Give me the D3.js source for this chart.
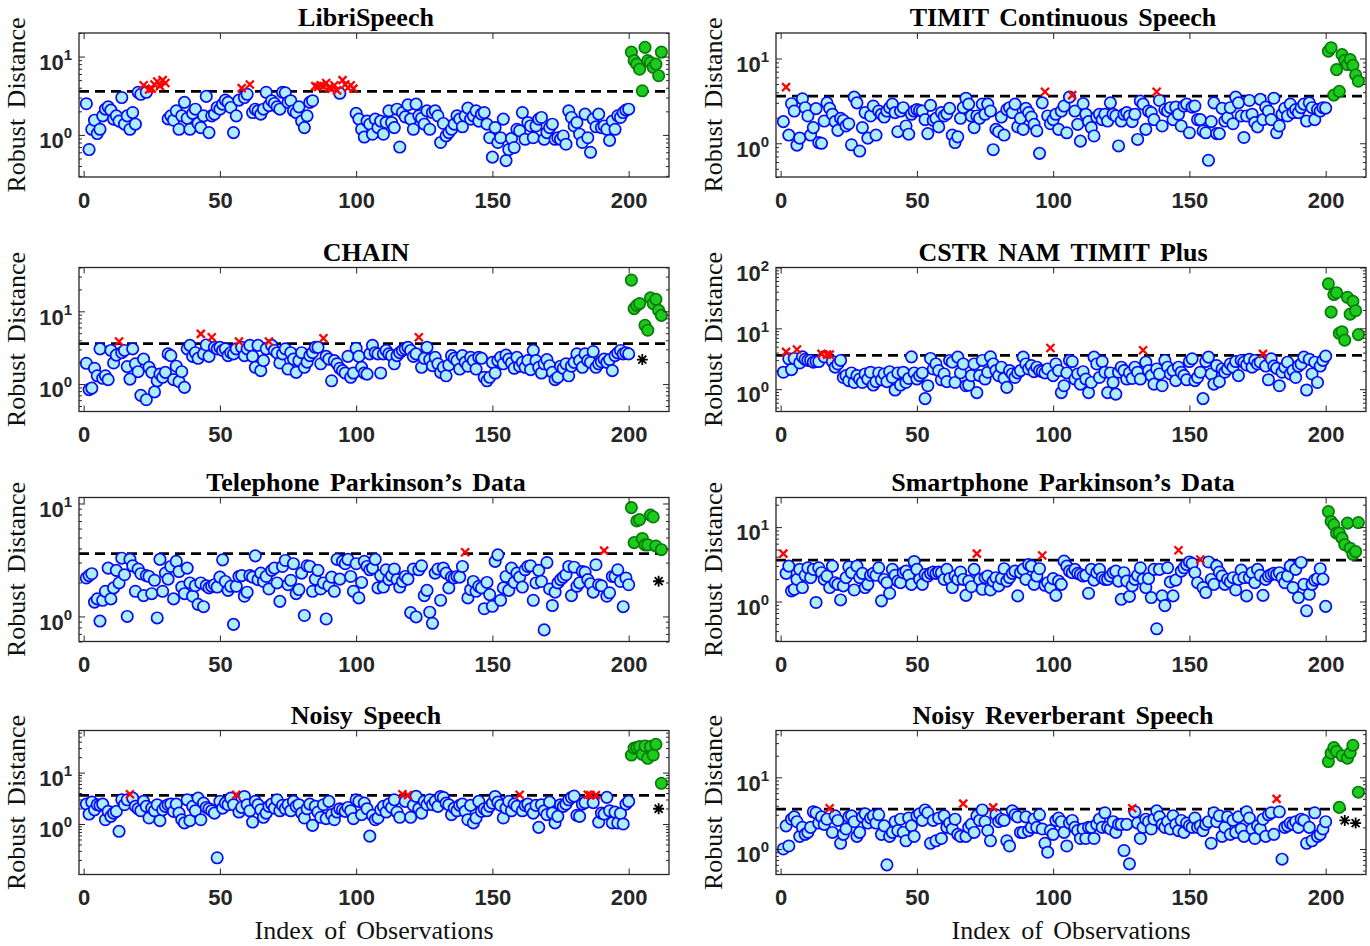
<!DOCTYPE html>
<html>
<head>
<meta charset="utf-8">
<style>
  body { margin: 0; background: #fff; }
  .tick text { font-family: "Liberation Sans", Arial, sans-serif; font-weight: bold; font-size: 22px; fill: #262626; }
  .tick line { stroke: #262626; stroke-width: 1; }
  .title { font-family: "Liberation Serif", "Times New Roman", serif; font-weight: bold; font-size: 26px; word-spacing: 4px; }
  .axlabel { font-family: "Liberation Serif", "Times New Roman", serif; font-size: 26px; word-spacing: 4px; fill: #111; }
</style>
</head>
<body>
<svg width="1370" height="946"></svg>
<script src="https://d3js.org/d3.v7.min.js"></script>
<script>
// robust distance cut-off (dashed line)
const cutoff = 3.6;

const panelTitles = [
  "LibriSpeech", "TIMIT Continuous Speech", "CHAIN", "CSTR NAM TIMIT Plus",
  "Telephone Parkinson\u2019s Data", "Smartphone Parkinson\u2019s Data",
  "Noisy Speech", "Noisy Reverberant Speech",
];

const yRanges = [
  [0.29, 20], [0.4, 20], [0.42, 40], [0.43, 100],
  [0.6, 11.3], [0.29, 25], [0.104, 66], [0.44, 45],
];

const xTicks = [0, 50, 100, 150, 200];

// observations 1..200, then the 12 planted ones (201..212)
const libriSpeech = [
  2.5, 0.65, 1.18, 1.54, 1.04, 1.18, 1.75, 2.13, 2.28, 2.07,
  1.59, 1.75, 1.5, 3.0, 1.37, 1.75, 1.18, 1.93, 1.37, 3.5,
  3.3, 4.3, 3.5, 3.8, 3.9, 4.4, 4.8, 4.2, 5.0, 4.6,
  1.6, 1.75, 1.54, 2.03, 1.18, 1.75, 2.6, 1.63, 1.18, 1.88,
  2.13, 1.4, 1.24, 1.75, 3.1, 1.07, 1.75, 1.84, 2.24, 2.13,
  2.47, 2.78, 2.6, 2.24, 1.07, 1.75, 2.78, 3.96, 3.0, 3.3,
  4.4, 1.93, 2.13, 2.03, 1.84, 2.13, 3.5, 2.36, 2.73, 2.52,
  2.28, 2.13, 3.5, 3.45, 2.6, 2.73, 2.03, 1.93, 2.28, 1.5,
  1.24, 1.75, 2.6, 2.73, 4.2, 4.1, 4.3, 4.2, 4.6, 4.0,
  3.9, 4.3, 3.7, 3.4, 5.0, 4.4, 4.0, 4.3, 3.9, 1.88,
  1.59, 1.18, 0.94, 1.5, 1.37, 1.02, 1.59, 1.24, 1.5, 1.02,
  1.44, 2.03, 1.44, 1.24, 2.13, 0.7, 1.93, 1.7, 2.42, 1.59,
  1.18, 2.47, 1.75, 1.63, 1.37, 2.03, 1.18, 1.93, 2.03, 1.75,
  0.8, 1.4, 0.97, 1.07, 1.18, 1.37, 1.75, 1.59, 1.27, 1.75,
  2.2, 1.59, 1.75, 2.03, 1.5, 1.84, 1.93, 1.37, 0.92, 0.52,
  1.24, 0.8, 0.92, 1.59, 0.47, 0.65, 0.9, 0.69, 1.18, 1.13,
  1.93, 0.88, 1.44, 1.3, 0.92, 1.3, 1.59, 1.67, 0.88, 1.07,
  1.24, 1.37, 0.88, 0.92, 0.88, 0.97, 0.76, 2.03, 1.67, 1.3,
  1.44, 1.02, 0.8, 1.84, 0.92, 0.6, 1.59, 1.27, 1.84, 1.24,
  1.3, 1.18, 0.85, 1.5, 1.18, 1.75, 1.67, 1.93, 2.07, 2.13,
];
const libriSpeechPlanted = [11.4, 8.9, 8.0, 6.9, 3.66, 13.1, 8.9, 8.4, 7.3, 8.0, 5.7, 11.4];

const timit = [
  1.8, 4.6, 1.25, 2.93, 2.4, 0.95, 1.15, 3.35, 2.63, 2.1,
  1.25, 1.53, 2.56, 1.02, 1.0, 1.83, 3.0, 2.58, 2.2, 1.8,
  1.42, 1.97, 1.86, 1.6, 1.7, 0.96, 3.5, 3.0, 0.81, 1.53,
  2.3, 1.15, 2.1, 2.75, 1.25, 2.4, 2.2, 2.04, 2.4, 2.63,
  2.9, 2.3, 1.37, 2.4, 2.63, 1.6, 1.28, 2.2, 2.4, 2.5,
  2.44, 2.4, 1.9, 1.3, 2.8, 1.86, 1.97, 1.56, 2.3, 2.1,
  2.23, 2.58, 1.25, 1.02, 1.19, 1.97, 2.63, 3.4, 2.9, 2.1,
  1.53, 2.1, 1.97, 2.9, 2.2, 2.9, 2.4, 0.84, 1.46, 1.37,
  2.04, 1.25, 2.5, 2.63, 2.3, 2.9, 1.56, 1.97, 1.46, 2.58,
  2.3, 2.04, 1.67, 1.4, 0.76, 3.0, 4.05, 2.1, 1.7, 1.9,
  2.2, 1.46, 2.4, 2.75, 1.33, 3.5, 3.7, 2.4, 1.67, 1.06,
  2.93, 2.2, 1.8, 1.53, 1.22, 2.04, 2.2, 1.9, 2.2, 1.83,
  3.0, 2.2, 2.1, 0.93, 1.83, 2.2, 2.3, 2.1, 1.8, 2.2,
  1.11, 3.15, 2.9, 1.46, 2.4, 2.3, 1.9, 4.05, 3.2, 1.6,
  2.5, 2.4, 2.63, 1.9, 2.67, 2.2, 1.6, 2.75, 2.9, 1.33,
  2.67, 2.75, 1.9, 1.9, 1.4, 1.33, 0.63, 1.8, 3.0, 1.3,
  1.3, 2.58, 1.83, 2.0, 2.63, 1.7, 3.5, 3.0, 2.1, 1.17,
  2.1, 3.2, 2.2, 1.75, 1.56, 3.3, 1.9, 2.67, 2.4, 1.9,
  3.4, 1.33, 1.6, 2.2, 2.58, 2.1, 2.9, 2.3, 2.5, 2.3,
  2.63, 2.9, 1.83, 3.0, 2.63, 1.9, 2.5, 2.4, 2.63, 2.6,
];
const timitPlanted = [12.2, 13.4, 3.7, 7.4, 4.1, 11.1, 9.5, 8.5, 9.7, 8.3, 6.4, 5.4];

const chain = [
  1.93, 0.84, 0.88, 1.65, 1.3, 3.05, 1.2, 1.3, 1.15, 2.9,
  1.95, 2.5, 3.85, 2.7, 2.9, 1.74, 1.17, 3.05, 1.9, 1.48,
  0.7, 2.2, 0.61, 1.7, 1.45, 0.78, 1.11, 1.37, 1.24, 1.45,
  2.6, 2.46, 1.15, 1.76, 1.08, 1.48, 0.9, 3.05, 3.4, 2.4,
  2.7, 2.26, 4.9, 2.6, 3.45, 2.4, 4.4, 3.2, 3.05, 3.2,
  2.9, 3.05, 2.46, 2.7, 2.6, 3.05, 3.85, 3.2, 2.46, 3.05,
  3.4, 2.4, 1.7, 3.4, 1.53, 2.1, 3.05, 3.85, 3.4, 2.9,
  2.68, 1.95, 2.6, 3.05, 1.61, 2.7, 2.2, 1.45, 2.1, 2.7,
  1.7, 2.0, 2.46, 2.7, 3.2, 3.2, 1.9, 4.27, 2.4, 2.2,
  1.11, 2.1, 1.9, 1.65, 1.53, 1.42, 2.4, 1.24, 1.42, 3.1,
  2.4, 1.7, 1.42, 1.37, 2.6, 3.4, 2.7, 2.6, 1.42, 2.6,
  2.9, 2.6, 2.46, 1.9, 2.46, 2.7, 2.9, 3.05, 3.2, 2.9,
  2.4, 2.6, 4.4, 1.7, 2.26, 3.2, 2.17, 1.79, 2.33, 1.9,
  1.45, 1.7, 1.3, 1.83, 2.46, 2.26, 2.1, 1.61, 2.46, 1.99,
  1.76, 2.33, 2.1, 1.61, 2.33, 2.26, 1.24, 1.11, 1.24, 1.99,
  1.42, 2.1, 2.33, 1.9, 2.5, 2.2, 1.95, 1.65, 2.33, 1.76,
  1.99, 1.7, 2.1, 1.58, 2.9, 2.1, 1.7, 1.42, 1.9, 2.17,
  1.79, 1.45, 1.15, 1.24, 1.76, 1.65, 1.9, 1.3, 1.76, 1.99,
  2.6, 2.1, 1.7, 2.6, 2.1, 1.99, 2.8, 1.7, 1.9, 2.03,
  2.2, 1.99, 2.17, 1.53, 2.46, 2.68, 2.9, 2.6, 2.7, 2.6,
];
const chainPlanted = [26.8, 10.9, 12.1, 12.8, 2.17, 6.4, 5.5, 15.3, 12.8, 14.6, 10.3, 8.8];

const cstr = [
  1.9, 4.1, 3.16, 2.1, 3.2, 4.5, 2.7, 3.4, 3.1, 2.97,
  2.97, 2.78, 2.85, 2.85, 3.8, 3.4, 3.7, 3.7, 2.85, 2.3,
  2.6, 2.97, 1.56, 1.67, 1.38, 1.85, 1.29, 1.67, 1.47, 1.29,
  1.78, 1.47, 1.9, 1.17, 1.33, 1.85, 1.43, 1.78, 1.33, 1.94,
  1.56, 0.97, 1.85, 1.17, 1.9, 1.29, 1.5, 3.4, 1.85, 1.47,
  1.67, 1.85, 0.7, 1.14, 3.2, 2.15, 2.6, 2.02, 1.43, 1.78,
  1.33, 2.97, 2.78, 1.29, 3.37, 1.85, 2.6, 1.14, 1.17, 1.67,
  2.6, 0.88, 1.67, 2.97, 1.47, 1.9, 3.4, 2.6, 2.02, 1.67,
  2.3, 1.5, 1.07, 2.02, 1.78, 1.56, 1.85, 2.02, 3.37, 2.6,
  2.15, 2.45, 1.94, 2.3, 2.02, 1.94, 1.85, 2.15, 4.76, 1.67,
  2.6, 2.02, 0.88, 1.14, 1.85, 2.97, 2.85, 1.47, 1.78, 1.21,
  1.94, 1.47, 0.88, 1.29, 3.37, 2.6, 1.56, 2.85, 1.9, 0.88,
  1.85, 1.29, 0.83, 1.9, 2.3, 2.02, 1.47, 1.85, 1.5, 2.3,
  1.9, 1.47, 4.36, 2.78, 2.02, 1.67, 1.21, 2.15, 1.78, 1.14,
  2.97, 2.3, 1.78, 2.02, 1.38, 2.3, 1.9, 1.67, 1.43, 2.85,
  3.16, 1.38, 1.56, 1.9, 0.7, 2.85, 3.37, 1.78, 1.21, 2.45,
  1.33, 2.15, 1.9, 2.15, 2.6, 2.3, 2.85, 1.67, 2.97, 2.78,
  2.5, 3.1, 2.3, 2.97, 2.6, 2.78, 3.8, 2.4, 1.43, 3.16,
  2.4, 2.2, 1.14, 1.9, 2.3, 2.78, 1.78, 2.02, 1.56, 2.4,
  2.6, 3.37, 0.97, 3.1, 1.78, 2.78, 1.29, 2.4, 2.97, 3.5,
];
const cstrPlanted = [54, 18.5, 35.9, 38.5, 8.3, 8.8, 6.4, 32.4, 17.1, 27.8, 19.5, 7.9];

const telephone = [
  2.19, 2.3, 2.39, 1.34, 1.43, 0.91, 1.39, 1.67, 2.68, 1.43,
  1.79, 2.56, 1.98, 3.28, 2.34, 1.0, 3.2, 2.81, 1.67, 2.63,
  2.39, 1.53, 2.3, 2.26, 1.59, 2.09, 0.97, 3.2, 1.67, 2.42,
  2.14, 2.77, 1.43, 3.07, 2.5, 1.82, 1.59, 2.68, 1.98, 1.51,
  1.87, 1.28, 1.98, 1.22, 1.87, 1.79, 1.85, 1.91, 1.82, 2.23,
  3.17, 2.04, 1.7, 1.85, 0.85, 1.85, 2.26, 2.3, 1.51, 1.64,
  2.3, 2.23, 3.44, 2.12, 2.42, 2.04, 2.26, 1.75, 2.56, 2.68,
  1.98, 1.36, 2.77, 3.13, 1.91, 2.09, 2.93, 1.59, 1.73, 2.42,
  1.02, 2.81, 2.77, 1.67, 2.14, 2.56, 1.75, 1.98, 0.95, 1.87,
  2.23, 1.67, 3.2, 2.14, 3.07, 2.93, 3.2, 2.26, 1.67, 2.93,
  1.46, 2.0, 3.07, 2.77, 2.59, 2.68, 3.2, 1.79, 2.3, 1.82,
  2.59, 2.12, 2.3, 2.63, 2.12, 1.82, 2.04, 2.26, 2.14, 1.08,
  2.63, 0.99, 2.59, 2.81, 1.53, 1.7, 1.09, 0.87, 2.42, 2.63,
  1.39, 2.68, 2.42, 1.79, 2.23, 2.19, 2.26, 2.23, 2.77, 3.7,
  1.46, 1.73, 2.04, 1.67, 1.85, 1.79, 1.17, 2.0, 1.56, 1.23,
  3.07, 3.51, 1.39, 1.79, 2.26, 1.7, 2.68, 2.0, 2.42, 2.23,
  1.82, 2.59, 2.77, 2.81, 1.39, 1.98, 2.56, 2.04, 0.76, 3.0,
  1.75, 1.25, 1.64, 1.98, 2.12, 2.23, 2.34, 2.77, 1.53, 2.73,
  1.85, 1.98, 2.5, 2.46, 2.12, 1.95, 1.64, 2.87, 1.91, 1.87,
  3.83, 1.51, 1.62, 2.26, 2.26, 2.59, 2.04, 1.22, 2.19, 1.91,
];
const telephonePlanted = [9.2, 4.5, 7.0, 7.2, 4.9, 4.3, 4.3, 7.9, 7.6, 4.2, 2.05, 3.9];

const smartphone = [
  4.4, 2.39, 2.99, 1.39, 1.46, 1.98, 2.7, 1.54, 2.25, 2.84,
  2.09, 2.7, 0.97, 2.84, 2.44, 1.98, 2.2, 1.54, 2.99, 1.79,
  1.7, 1.05, 1.62, 2.09, 2.93, 2.44, 1.43, 2.99, 2.09, 2.39,
  1.54, 1.7, 2.25, 2.39, 2.25, 2.84, 1.02, 1.98, 1.79, 1.29,
  2.7, 2.25, 1.88, 1.79, 2.44, 2.56, 2.25, 1.7, 3.45, 2.7,
  1.98, 1.7, 2.31, 2.2, 2.39, 2.49, 2.39, 2.49, 2.44, 1.98,
  2.7, 2.03, 1.54, 2.2, 1.98, 2.49, 1.98, 1.21, 1.88, 1.58,
  2.7, 4.4, 1.98, 1.46, 2.09, 2.2, 1.43, 1.88, 2.09, 1.62,
  2.03, 2.76, 1.88, 2.09, 2.39, 2.56, 1.19, 2.44, 2.7, 1.98,
  3.14, 2.99, 1.7, 2.2, 2.76, 4.15, 1.65, 1.79, 1.54, 2.03,
  1.21, 1.88, 1.7, 3.5, 2.99, 2.56, 2.44, 2.7, 2.39, 2.31,
  2.2, 2.25, 1.29, 2.7, 1.94, 2.44, 2.7, 2.09, 1.98, 1.98,
  2.2, 2.44, 2.56, 1.88, 1.07, 2.44, 1.88, 1.17, 1.62, 1.98,
  2.25, 2.84, 1.98, 1.54, 2.03, 1.13, 2.7, 0.43, 2.7, 1.19,
  0.88, 2.84, 1.83, 1.19, 1.94, 4.88, 2.56, 2.84, 3.14, 3.4,
  3.24, 2.44, 1.79, 3.67, 1.54, 1.32, 3.4, 1.98, 1.7, 2.99,
  2.49, 2.2, 1.7, 1.98, 1.83, 2.09, 1.43, 1.98, 2.64, 2.09,
  1.19, 2.09, 2.44, 1.79, 2.7, 2.25, 1.21, 1.98, 2.2, 2.31,
  2.39, 2.31, 2.44, 2.09, 1.79, 2.2, 2.99, 1.54, 2.7, 1.13,
  3.35, 1.7, 0.75, 1.25, 1.7, 1.94, 2.03, 2.76, 2.0, 0.86,
];
const smartphonePlanted = [16.2, 11.9, 10.7, 8.3, 8.3, 7.1, 5.8, 11.3, 5.2, 4.3, 4.7, 11.5];

const noisy = [
  2.44, 1.56, 2.66, 1.89, 2.37, 2.3, 2.44, 1.21, 1.76, 1.41,
  1.63, 1.76, 0.72, 2.96, 2.37, 2.96, 3.8, 3.19, 2.2, 1.98,
  1.81, 2.75, 2.2, 1.31, 2.04, 1.81, 2.37, 1.16, 1.89, 2.2,
  2.37, 2.44, 1.76, 2.44, 1.63, 1.21, 1.05, 2.96, 1.16, 2.2,
  1.81, 3.19, 1.21, 2.55, 2.1, 1.98, 1.81, 1.63, 0.22, 2.75,
  2.04, 2.55, 2.37, 3.19, 2.37, 3.7, 1.71, 2.1, 3.43, 2.37,
  1.81, 1.09, 2.75, 2.37, 1.89, 1.35, 1.63, 2.2, 2.44, 2.04,
  2.96, 1.81, 2.3, 1.98, 2.37, 1.81, 2.75, 2.2, 2.37, 1.63,
  1.31, 1.98, 2.44, 0.94, 2.2, 1.71, 1.35, 2.37, 1.27, 2.75,
  1.52, 1.21, 1.71, 1.98, 1.89, 1.76, 2.1, 1.81, 1.27, 2.96,
  2.75, 1.52, 2.55, 1.98, 0.58, 1.47, 1.21, 1.31, 1.89, 2.2,
  1.71, 2.44, 2.1, 2.96, 1.71, 1.35, 3.8, 2.75, 3.65, 1.35,
  2.3, 3.45, 1.98, 1.63, 2.75, 2.37, 2.96, 2.37, 2.75, 2.2,
  3.43, 3.28, 2.55, 2.37, 1.52, 2.04, 1.81, 2.3, 2.44, 1.76,
  1.21, 2.3, 1.05, 1.31, 2.75, 1.76, 1.98, 1.81, 2.2, 2.55,
  3.43, 2.66, 2.3, 1.31, 2.04, 2.75, 1.81, 2.44, 2.2, 3.7,
  1.81, 2.3, 2.44, 1.98, 1.63, 2.3, 0.86, 2.37, 1.81, 1.52,
  2.66, 1.63, 1.05, 1.41, 2.37, 2.2, 2.44, 2.96, 3.28, 3.5,
  1.47, 1.41, 2.44, 2.6, 3.7, 3.65, 2.6, 3.65, 1.09, 1.63,
  1.56, 3.3, 1.81, 1.05, 1.7, 1.05, 1.6, 1.0, 2.44, 2.75,
];
const noisyPlanted = [22, 30, 30.6, 32, 22.7, 33, 19, 32, 22, 35.5, 1.98, 6.2];

const reverberant = [
  1.0, 2.1, 1.1, 2.6, 2.8, 2.4, 1.5, 2.0, 1.6, 1.7,
  2.0, 3.3, 3.2, 2.3, 2.8, 2.2, 2.6, 3.7, 1.7, 2.9,
  2.5, 1.2, 1.6, 1.9, 2.8, 2.9, 2.4, 1.5, 1.7, 2.8,
  3.1, 2.3, 2.7, 2.9, 2.3, 3.0, 1.6, 2.1, 0.6, 1.5,
  1.7, 2.4, 1.8, 2.6, 1.7, 1.3, 2.7, 2.1, 1.5, 2.9,
  3.1, 2.5, 3.5, 3.2, 1.2, 2.5, 1.3, 2.7, 1.4, 2.9,
  2.0, 2.3, 1.9, 2.6, 1.6, 1.5, 4.3, 1.5, 2.0, 2.2,
  1.7, 2.9, 2.5, 3.5, 2.4, 1.8, 1.3, 3.8, 3.0, 2.4,
  2.6, 2.5, 1.3, 1.1, 3.4, 3.0, 2.8, 1.7, 1.7, 2.8,
  1.8, 2.0, 2.6, 2.0, 3.0, 1.9, 1.2, 0.9, 1.8, 1.6,
  2.5, 2.7, 2.4, 1.7, 1.1, 2.3, 2.5, 2.0, 1.8, 1.4,
  1.9, 1.4, 2.0, 2.0, 1.4, 2.2, 2.6, 2.0, 3.2, 2.0,
  1.9, 2.4, 1.7, 2.2, 2.2, 0.95, 2.2, 0.62, 3.7, 3.3,
  2.3, 1.4, 2.0, 2.6, 2.4, 1.9, 2.6, 3.4, 2.8, 2.2,
  2.0, 2.4, 1.9, 2.9, 2.2, 1.8, 2.5, 1.7, 2.3, 2.1,
  2.0, 2.7, 2.0, 2.1, 1.8, 2.2, 2.4, 1.2, 3.2, 2.4,
  2.9, 1.5, 2.0, 2.8, 1.6, 2.5, 1.7, 2.8, 1.9, 1.5,
  3.3, 2.7, 1.9, 1.4, 2.1, 1.9, 2.6, 1.5, 3.0, 3.2,
  1.6, 5.0, 3.3, 0.72, 2.0, 2.1, 2.3, 2.2, 2.4, 2.0,
  2.6, 2.5, 1.2, 2.0, 1.3, 3.2, 1.5, 1.6, 1.9, 2.4,
];
const reverberantPlanted = [16.6, 21.7, 26, 23, 3.8, 20, 2.5, 18.5, 22, 28, 2.3, 6.2];

const cleanSeries = [libriSpeech, timit, chain, cstr, telephone, smartphone, noisy, reverberant];
const plantedSeries = [
  libriSpeechPlanted, timitPlanted, chainPlanted, cstrPlanted,
  telephonePlanted, smartphonePlanted, noisyPlanted, reverberantPlanted,
];

let svg = d3.select("svg");

const colLeft = [79, 776];
const rowTop = [33, 267.5, 497.5, 730.5];
const plotW = 590,
  plotH = 144;

let x = d3.scaleLinear().domain([-1.7, 214.8]).range([0, plotW]);

const crossPath = "M-4,-4L4,4M-4,4L4,-4";
const starPath = "M0,-5.5V5.5M-5.5,0H5.5M-4,-4L4,4M-4,4L4,-4";

panelTitles.forEach(function (title, k) {
  let g = svg
    .append("g")
    .attr("transform", "translate(" + colLeft[k % 2] + "," + rowTop[Math.floor(k / 2)] + ")");

  let y = d3.scaleLog().domain(yRanges[k]).range([plotH, 0]);

  // decade ticks and the 2..9 minor ticks inside the range
  let lo = yRanges[k][0],
    hi = yRanges[k][1];
  let majors = [],
    minors = [];
  for (let e = Math.floor(Math.log10(lo)); e <= Math.ceil(Math.log10(hi)); e++) {
    for (let m = 1; m < 10; m++) {
      let t = m * Math.pow(10, e);
      if (t < lo || t > hi) continue;
      if (m === 1) majors.push(t);
      else minors.push(t);
    }
  }

  let points = cleanSeries[k].map(function (v, i) {
    return { idx: i + 1, v: v };
  });
  let planted = plantedSeries[k].map(function (v, i) {
    return { idx: 201 + i, v: v };
  });

  // threshold
  g.append("line")
    .attr("x1", 0)
    .attr("x2", plotW)
    .attr("y1", y(cutoff))
    .attr("y2", y(cutoff))
    .attr("stroke", "#000")
    .attr("stroke-width", 2.6)
    .attr("stroke-dasharray", "10,6");

  g.append("g")
    .selectAll("circle")
    .data(points.filter(function (d) { return d.v <= cutoff; }))
    .enter()
    .append("circle")
    .attr("cx", function (d) { return x(d.idx); })
    .attr("cy", function (d) { return y(d.v); })
    .attr("r", 5.7)
    .attr("fill", "#aaedfb")
    .attr("stroke", "#0a0af5")
    .attr("stroke-width", 1.7);

  g.append("g")
    .selectAll("path")
    .data(points.filter(function (d) { return d.v > cutoff; }))
    .enter()
    .append("path")
    .attr("d", crossPath)
    .attr("transform", function (d) { return "translate(" + x(d.idx) + "," + y(d.v) + ")"; })
    .attr("stroke", "#ff0000")
    .attr("stroke-width", 2.3)
    .attr("fill", "none");

  g.append("g")
    .selectAll("circle")
    .data(planted.filter(function (d) { return d.v > cutoff; }))
    .enter()
    .append("circle")
    .attr("cx", function (d) { return x(d.idx); })
    .attr("cy", function (d) { return y(d.v); })
    .attr("r", 5.7)
    .attr("fill", "#1ccc1c")
    .attr("stroke", "#0b7a0b")
    .attr("stroke-width", 1.7);

  g.append("g")
    .selectAll("path")
    .data(planted.filter(function (d) { return d.v <= cutoff; }))
    .enter()
    .append("path")
    .attr("d", starPath)
    .attr("transform", function (d) { return "translate(" + x(d.idx) + "," + y(d.v) + ")"; })
    .attr("stroke", "#000")
    .attr("stroke-width", 1.8)
    .attr("fill", "none");

  // axes, ticks pointing inward on all four sides
  let bottom = g
    .append("g")
    .attr("transform", "translate(0," + plotH + ")")
    .call(d3.axisBottom(x).tickValues(xTicks).tickSize(-6).tickPadding(15));
  bottom.select(".domain").remove();

  g.append("g")
    .call(d3.axisTop(x).tickValues(xTicks).tickSize(-6).tickFormat(""))
    .select(".domain")
    .remove();

  let left = g
    .append("g")
    .call(d3.axisLeft(y).tickValues(majors).tickSize(-6).tickPadding(7).tickFormat(""));
  left.select(".domain").remove();
  left
    .selectAll(".tick text")
    .attr("dy", "0.58em")
    .each(function (d) {
      let t = d3.select(this);
      t.append("tspan").text("10");
      t.append("tspan")
        .attr("dy", -10)
        .attr("font-size", "15px")
        .text(Math.round(Math.log10(d)));
    });

  g.append("g")
    .call(d3.axisLeft(y).tickValues(minors).tickSize(-3).tickFormat(""))
    .select(".domain")
    .remove();

  g.append("g")
    .attr("transform", "translate(" + plotW + ",0)")
    .call(d3.axisRight(y).tickValues(majors).tickSize(-6).tickFormat(""))
    .select(".domain")
    .remove();

  g.append("g")
    .attr("transform", "translate(" + plotW + ",0)")
    .call(d3.axisRight(y).tickValues(minors).tickSize(-3).tickFormat(""))
    .select(".domain")
    .remove();

  g.append("rect")
    .attr("width", plotW)
    .attr("height", plotH)
    .attr("fill", "none")
    .attr("stroke", "#262626")
    .attr("stroke-width", 1.3);

  g.append("text")
    .attr("class", "title")
    .attr("x", plotW / 2 - 8)
    .attr("y", -7)
    .attr("text-anchor", "middle")
    .text(title);

  g.append("text")
    .attr("class", "axlabel")
    .attr("transform", "translate(-54," + plotH / 2 + ") rotate(-90)")
    .attr("text-anchor", "middle")
    .text("Robust Distance");

  if (k >= 6) {
    g.append("text")
      .attr("class", "axlabel")
      .attr("x", plotW / 2)
      .attr("y", plotH + 64)
      .attr("text-anchor", "middle")
      .text("Index of Observations");
  }
});
</script>
</body>
</html>
